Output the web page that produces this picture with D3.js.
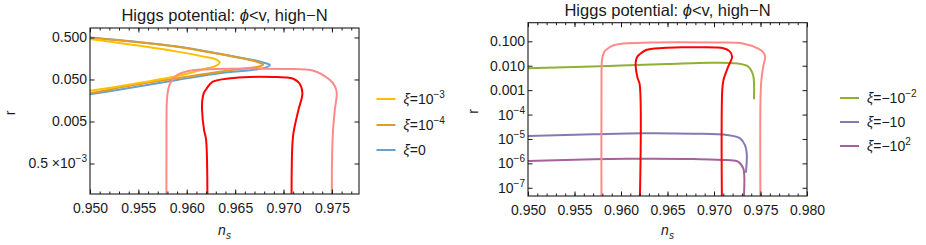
<!DOCTYPE html>
<html>
<head>
<meta charset="utf-8">
<script src="https://cdnjs.cloudflare.com/ajax/libs/d3/7.8.5/d3.min.js"></script>
<style>
  body { margin: 0; background: #fff; }
  svg { display: block; }
  text { font-family: "Liberation Sans", Arial, sans-serif; fill: #1a1a1a; }
</style>
</head>
<body>
<svg id="chart" width="926" height="245"></svg>
<script>
// ---------------- DATA ----------------
const titleText = "Higgs potential: ";
// Left panel tick values / labels
const xTicksL = [0.950, 0.955, 0.960, 0.965, 0.970, 0.975];
const xTickLabelsL = ["0.950", "0.955", "0.960", "0.965", "0.970", "0.975"];
const yTicksL = [0.5, 0.05, 0.005, 0.0005];
const yTickLabelsL = ["0.500", "0.050", "0.005", "0.5 ×10^−3"];
// Right panel tick values / labels
const xTicksR = [0.950, 0.955, 0.960, 0.965, 0.970, 0.975, 0.980];
const xTickLabelsR = ["0.950", "0.955", "0.960", "0.965", "0.970", "0.975", "0.980"];
const yTicksR = [1e-1, 1e-2, 1e-3, 1e-4, 1e-5, 1e-6, 1e-7];
const yTickLabelsR = ["0.100", "0.010", "0.001", "10^−4", "10^−5", "10^−6", "10^−7"];

// Planck contours (same in both panels)
const pinkNs = [0.9579, 0.9579, 0.95795, 0.9581, 0.9583, 0.9590, 0.9603, 0.9630, 0.9700, 0.9731, 0.9748, 0.9753, 0.9755, 0.9753, 0.9751, 0.9750, 0.9750];
const pinkR  = [1e-8, 0.001, 0.0163, 0.030, 0.0413, 0.064, 0.081, 0.0889, 0.0889, 0.081, 0.0486, 0.035, 0.0239, 0.0094, 0.00266, 0.000413, 1e-8];
const redNs = [0.9620, 0.9620, 0.96179, 0.96158, 0.96161, 0.96175, 0.96207, 0.9627, 0.9645, 0.9665, 0.9690, 0.9702, 0.9710, 0.97164, 0.97195, 0.97154, 0.97102, 0.97089, 0.97086];
const redR  = [1e-8, 0.0018, 0.0031, 0.0094, 0.0163, 0.0234, 0.0308, 0.0443, 0.0535, 0.0574, 0.0574, 0.0560, 0.0520, 0.0406, 0.0234, 0.0094, 0.0026, 0.00105, 1e-8];

// Left panel series (xi >= 0)
const yellowNs = [0.9500, 0.9545, 0.9590, 0.9621, 0.9630, 0.9634, 0.9630, 0.9621, 0.9590, 0.9545, 0.9500];
const yellowR  = [0.460, 0.331, 0.230, 0.169, 0.150, 0.126, 0.105, 0.0924, 0.0606, 0.0391, 0.0271];
const orangeNs = [0.9500, 0.9545, 0.9590, 0.9634, 0.9662, 0.9674, 0.9679, 0.9674, 0.9662, 0.9634, 0.9590, 0.9545, 0.9500];
const orangeR  = [0.4945, 0.397, 0.302, 0.202, 0.151, 0.128, 0.113, 0.100, 0.0924, 0.0767, 0.0535, 0.037, 0.0234];
const blueNs = [0.9500, 0.9545, 0.9590, 0.9634, 0.9664, 0.9679, 0.9686, 0.9682, 0.9672, 0.9634, 0.9590, 0.9545, 0.9500];
const blueR  = [0.500, 0.400, 0.305, 0.205, 0.152, 0.127, 0.110, 0.097, 0.0865, 0.0703, 0.0486, 0.0326, 0.0222];

// Right panel series (xi < 0)
const greenNs = [0.950, 0.955, 0.960, 0.965, 0.9696, 0.9724, 0.9737, 0.9742, 0.9743, 0.9743];
const greenR  = [0.0078, 0.0089, 0.0102, 0.0117, 0.0133, 0.0125, 0.0091, 0.0042, 0.0019, 0.00046];
const purpleNs = [0.950, 0.9570, 0.9624, 0.9678, 0.9714, 0.9728, 0.97333, 0.97352, 0.97344];
const purpleR  = [1.315e-5, 1.545e-5, 1.70e-5, 1.64e-5, 1.445e-5, 1.06e-5, 5.6e-6, 2.64e-6, 4.5e-7];
const magentaNs = [0.950, 0.9570, 0.9624, 0.9678, 0.9714, 0.97261, 0.97315, 0.97326, 0.9732];
const magentaR  = [1.24e-6, 1.46e-6, 1.545e-6, 1.50e-6, 1.36e-6, 1.16e-6, 6.2e-7, 2.8e-7, 3e-8];

const legendL = ["ξ=10^−3", "ξ=10^−4", "ξ=0"];
const legendR = ["ξ=−10^−2", "ξ=−10", "ξ=−10^2"];

// ---------------- STYLE ----------------
const C = {
  yellow: "#FFBF00", orange: "#E09C24", blue: "#6A9FCB",
  green: "#8FB032", purple: "#8778B3", magenta: "#A5619D",
  red: "#FF0000", pink: "#FF8A8A"
};

const svg = d3.select("#chart");
const zip = (xs, ys) => xs.map((x, i) => [x, ys[i]]);

function richText(sel, str, supSize) {
  sel.text(null);
  const parts = str.split("^");
  const segs = parts[0].split(/(ξ)/).filter(s => s.length);
  segs.forEach(s => {
    const t = sel.append("tspan").text(s);
    if (s === "ξ") t.attr("font-style", "italic");
  });
  if (parts.length > 1) {
    sel.append("tspan").attr("font-size", supSize).attr("dy", -6).text(parts[1]);
  }
}

function panel(cfg) {
  const g = svg.append("g");
  const x = cfg.x, y = cfg.y;
  const [x0, x1] = x.range(), [y0, y1] = y.range();
  const clipId = "clip" + cfg.id;
  svg.append("defs").append("clipPath").attr("id", clipId)
    .append("rect").attr("x", x0).attr("y", y1).attr("width", x1 - x0).attr("height", y0 - y1);

  const line = d3.line().x(d => x(d[0])).y(d => y(d[1])).curve(d3.curveCatmullRom.alpha(0.5));
  const plot = g.append("g").attr("clip-path", `url(#${clipId})`);
  cfg.series.forEach(s => {
    plot.append("path").attr("d", line(s.data)).attr("fill", "none")
      .attr("stroke", s.color).attr("stroke-width", s.w || 2)
      .attr("stroke-linejoin", "round").attr("stroke-linecap", "round");
  });

  const minor = d3.range(Math.round(x.domain()[0] * 1000), Math.floor(x.domain()[1] * 1000 + 1e-6) + 1).map(i => i / 1000);
  const axStyle = a => {
    a.select(".domain").remove();
    a.selectAll("line").attr("stroke", "#1a1a1a").attr("stroke-width", 1);
    a.selectAll("text").attr("font-size", 14).attr("fill", "#1a1a1a").attr("font-family", "Liberation Sans, Arial, sans-serif");
  };
  g.append("g").attr("transform", `translate(0,${y0})`)
    .call(d3.axisBottom(x).tickValues(minor).tickSize(-2.5).tickFormat("")).call(axStyle);
  g.append("g").attr("transform", `translate(0,${y1})`)
    .call(d3.axisTop(x).tickValues(minor).tickSize(-2.5).tickFormat("")).call(axStyle);
  g.append("g").attr("transform", `translate(0,${y0})`)
    .call(d3.axisBottom(x).tickValues(cfg.xTicks).tickSize(-4.5).tickPadding(9)
      .tickFormat((d, i) => cfg.xLabels[i])).call(axStyle);
  g.append("g").attr("transform", `translate(0,${y1})`)
    .call(d3.axisTop(x).tickValues(cfg.xTicks).tickSize(-4.5).tickFormat("")).call(axStyle);
  const yl = g.append("g").attr("transform", `translate(${x0},0)`)
    .call(d3.axisLeft(y).tickValues(cfg.yTicks).tickSize(-4.5).tickPadding(3)
      .tickFormat((d, i) => cfg.yLabels[i])).call(axStyle);
  yl.selectAll("text").each(function (d, i) { richText(d3.select(this), cfg.yLabels[i], 10); });
  g.append("g").attr("transform", `translate(${x1},0)`)
    .call(d3.axisRight(y).tickValues(cfg.yTicks).tickSize(-4.5).tickFormat("")).call(axStyle);

  g.append("rect").attr("x", x0).attr("y", y1).attr("width", x1 - x0).attr("height", y0 - y1)
    .attr("fill", "none").attr("stroke", "#1a1a1a").attr("stroke-width", 1.1);

  const t = g.append("text").attr("x", (x0 + x1) / 2).attr("y", y1 - 7)
    .attr("text-anchor", "middle").attr("font-size", 16.5);
  t.append("tspan").text(titleText);
  t.append("tspan").attr("font-style", "italic").text("ϕ");
  t.append("tspan").text("<v, high−N");

  const xl = g.append("text").attr("x", (x0 + x1) / 2).attr("y", 235)
    .attr("text-anchor", "middle").attr("font-size", 14);
  xl.append("tspan").attr("font-style", "italic").text("n");
  xl.append("tspan").attr("font-style", "italic").attr("font-size", 10).attr("dy", 4).text("s");
  g.append("text").attr("transform", `translate(${cfg.rx},${(y0 + y1) / 2 + 2}) rotate(-90)`)
    .attr("text-anchor", "middle").attr("font-size", 14).text("r");

  cfg.legend.forEach((lab, i) => {
    const ly = cfg.legY[i];
    g.append("line").attr("x1", cfg.legX).attr("x2", cfg.legX + 19).attr("y1", ly).attr("y2", ly)
      .attr("stroke", cfg.legColors[i]).attr("stroke-width", 2);
    const tx = g.append("text").attr("x", cfg.legX + 27).attr("y", ly + 5).attr("font-size", 14);
    richText(tx, lab, 10);
  });
}

panel({
  id: "L",
  x: d3.scaleLinear([0.95, 0.9778], [90, 359]),
  y: d3.scaleLog([9.4e-5, 0.84], [194, 28]),
  xTicks: xTicksL, xLabels: xTickLabelsL,
  yTicks: yTicksL, yLabels: yTickLabelsL,
  rx: 15,
  series: [
    { data: zip(blueNs, blueR), color: C.blue },
    { data: zip(orangeNs, orangeR), color: C.orange },
    { data: zip(yellowNs, yellowR), color: C.yellow },
    { data: zip(pinkNs, pinkR), color: C.pink },
    { data: zip(redNs, redR), color: C.red }
  ],
  legend: legendL, legColors: [C.yellow, C.orange, C.blue],
  legX: 376.5, legY: [99, 125, 150]
});

panel({
  id: "R",
  x: d3.scaleLinear([0.95, 0.98], [528, 807]),
  y: d3.scaleLog([4.6e-8, 0.58], [196, 22.7]),
  xTicks: xTicksR, xLabels: xTickLabelsR,
  yTicks: yTicksR, yLabels: yTickLabelsR,
  rx: 478,
  series: [
    { data: zip(greenNs, greenR), color: C.green },
    { data: zip(purpleNs, purpleR), color: C.purple },
    { data: zip(magentaNs, magentaR), color: C.magenta },
    { data: zip(pinkNs, pinkR), color: C.pink },
    { data: zip(redNs, redR), color: C.red }
  ],
  legend: legendR, legColors: [C.green, C.purple, C.magenta],
  legX: 840, legY: [98, 122, 146]
});
</script>
</body>
</html>
